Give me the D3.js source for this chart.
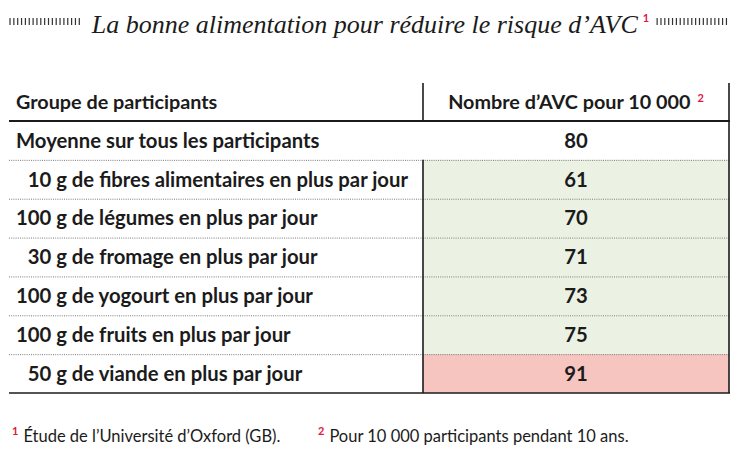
<!DOCTYPE html>
<html><head><meta charset="utf-8">
<script src="https://cdn.jsdelivr.net/npm/d3@7"></script>
<style>body{margin:0;background:#fff} svg{display:block}</style>
</head><body><svg id="c" width="741" height="450"></svg>
<script>
const title = "La bonne alimentation pour réduire le risque d’AVC";
const headers = ["Groupe de participants", "Nombre d’AVC pour 10 000"];
const groups = [
  "Moyenne sur tous les participants",
  "10 g de fibres alimentaires en plus par jour",
  "100 g de légumes en plus par jour",
  "30 g de fromage en plus par jour",
  "100 g de yogourt en plus par jour",
  "100 g de fruits en plus par jour",
  "50 g de viande en plus par jour"
];
const strokes = [80, 61, 70, 71, 73, 75, 91];
const footnotes = ["Étude de l’Université d’Oxford (GB).", "Pour 10 000 participants pendant 10 ans."];

const W = 741;
const svg = d3.select("#c");
const INK = "#1b1b1b", RED = "#e2173f";
const GREEN_FILL = "#ebf2e4", RED_FILL = "#f7c5c0";
const SANS = "Lato, 'Noto Sans', sans-serif";
const SERIF = "'Liberation Serif', 'DejaVu Serif', serif";

const left = 9, right = 729, divX = 423;
const headTop = 83, headBottom = 121, bottom = 393;
const y = d3.scaleBand().domain(groups).range([headBottom, bottom]);
const baseline = strokes[0];

// row fills
svg.append("g").selectAll("rect").data(groups.slice(1)).join("rect")
  .attr("x", divX).attr("width", right - divX)
  .attr("y", d => y(d)).attr("height", y.bandwidth())
  .attr("fill", (d) => strokes[groups.indexOf(d)] < baseline ? GREEN_FILL : RED_FILL);

// dotted separators
svg.append("g").selectAll("line").data(groups.slice(1)).join("line")
  .attr("x1", left).attr("x2", right)
  .attr("y1", d => y(d) + 0.5).attr("y2", d => y(d) + 0.5)
  .attr("stroke", "#7a7a7a").attr("stroke-width", 1).attr("stroke-dasharray", "1,1.2");

// solid rules
const rules = svg.append("g").attr("stroke", INK);
rules.append("line").attr("x1", left).attr("x2", right + 1).attr("y1", headBottom).attr("y2", headBottom).attr("stroke-width", 2);
rules.append("line").attr("x1", left).attr("x2", right + 1).attr("y1", bottom).attr("y2", bottom).attr("stroke-width", 1.6);
rules.append("line").attr("x1", divX).attr("x2", divX).attr("y1", headTop).attr("y2", headBottom).attr("stroke-width", 1.6);
rules.append("line").attr("x1", divX).attr("x2", divX).attr("y1", y(groups[1])).attr("y2", bottom).attr("stroke-width", 1.6);
rules.append("line").attr("x1", right).attr("x2", right).attr("y1", headTop).attr("y2", bottom).attr("stroke-width", 1.6);

// header
const headY = (headTop + headBottom) / 2;
const headSize = 19.8;
svg.append("text").attr("x", 16).attr("y", headY).attr("dy", "0.36em")
  .attr("font-family", SANS).attr("font-weight", 700).attr("font-size", headSize).attr("fill", INK)
  .text(headers[0]);
const h2 = svg.append("text").attr("x", (divX + right) / 2).attr("y", headY).attr("dy", "0.36em")
  .attr("text-anchor", "middle").attr("font-family", SANS).attr("font-weight", 700)
  .attr("font-size", headSize).attr("fill", INK);
h2.append("tspan").text(headers[1]);
h2.append("tspan").attr("dx", 7).attr("dy", -7).attr("font-size", 11).attr("fill", RED).text("2");

// row labels with digit indentation
const labelSize = 20.3;
const probe = svg.append("text").attr("font-family", SANS).attr("font-weight", 700).attr("font-size", labelSize).text("0");
const digitW = probe.node().getComputedTextLength();
probe.remove();
svg.append("g").selectAll("text").data(groups).join("text")
  .attr("x", d => { const m = d.match(/^(\d+)\s/); return 16 + (m ? (3 - m[1].length) * digitW : 0); })
  .attr("y", d => y(d) + y.bandwidth() / 2).attr("dy", "0.36em")
  .attr("font-family", SANS).attr("font-weight", 700).attr("font-size", labelSize).attr("fill", INK)
  .text(d => d);

// values
svg.append("g").selectAll("text").data(groups).join("text")
  .attr("x", (divX + right) / 2)
  .attr("y", d => y(d) + y.bandwidth() / 2).attr("dy", "0.36em")
  .attr("text-anchor", "middle")
  .attr("font-family", SANS).attr("font-weight", 700).attr("font-size", labelSize).attr("fill", INK)
  .text((d, i) => strokes[i]);

// title
const t = svg.append("text").attr("x", W / 2).attr("y", 33).attr("text-anchor", "middle").attr("fill", INK);
t.append("tspan").attr("font-family", SERIF).attr("font-style", "italic").attr("font-size", 26).text(title);
t.append("tspan").attr("dx", 5).attr("dy", -11).attr("font-family", SANS).attr("font-weight", 700)
  .attr("font-size", 11).attr("fill", RED).text("1");
const bb = t.node().getBBox();
const hatchL = d3.range(10, bb.x - 10, 3.85);
const hatchR = d3.range(bb.x + bb.width + 8, 730, 3.85);
svg.append("g").attr("stroke", "#333").attr("stroke-width", 1.2)
  .selectAll("line").data(hatchL.concat(hatchR)).join("line")
  .attr("x1", d => d).attr("x2", d => d).attr("y1", 18).attr("y2", 25);

// footnotes
const fnX = [12, 318];
footnotes.forEach((f, i) => {
  const ft = svg.append("text").attr("x", fnX[i]).attr("y", 442).attr("fill", INK);
  ft.append("tspan").attr("font-family", SANS).attr("font-weight", 700).attr("font-size", 11)
    .attr("fill", RED).attr("dy", -7).text(String(i + 1));
  ft.append("tspan").attr("dx", 5).attr("dy", 7).attr("font-family", SANS).attr("font-size", 16.5).text(f);
});
</script></body></html>
